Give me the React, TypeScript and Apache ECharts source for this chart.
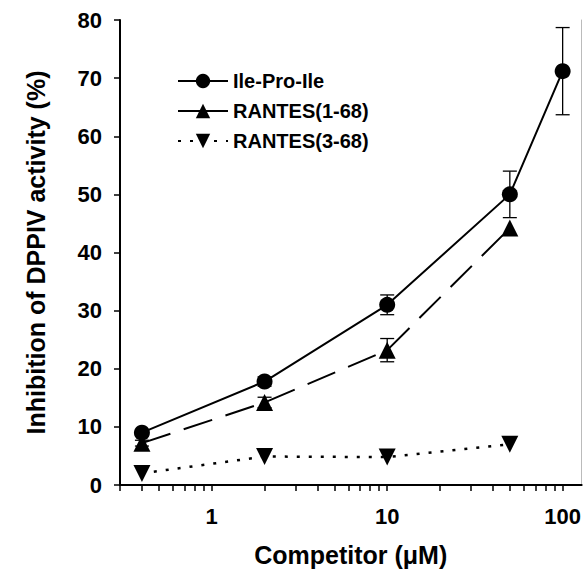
import React, { useEffect, useRef } from "react";
import * as echarts from "echarts";

const concIPI = [0.4, 2, 10, 50, 100];
const ileProIle = [9, 17.8, 31, 50, 71.2];
const ileProIleErr = [0.5, 0.8, 1.7, 4, 7.5];

const concR = [0.4, 2, 10, 50];
const rantes168 = [7.2, 14.2, 23.2, 44.2];
const rantes168Err = [0.5, 0.9, 2, 0];
const rantes368 = [2, 4.9, 4.8, 7];

const xLabelValues = [1, 10, 100];
const xTickValues = [
  0.3, 0.4, 0.5, 0.6, 0.7, 0.8, 0.9, 1, 2, 3, 4, 5, 6, 7, 8, 9, 10, 20, 30, 40, 50, 60, 70, 80, 90, 100,
];

const FONT = "'Liberation Sans', Arial, sans-serif";

export default function App() {
  const ref = useRef<HTMLDivElement>(null);
  useEffect(() => {
    if (!ref.current) return;
    const chart = echarts.init(ref.current, undefined, { renderer: "svg" });
    const pair = (xs: number[], ys: number[]) => xs.map((x, i) => [x, ys[i]]);
    const errData = [
      ...concIPI.map((x, i) => [x, ileProIle[i], ileProIleErr[i]]),
      ...concR.map((x, i) => [x, rantes168[i], rantes168Err[i]]),
    ].filter((d) => d[2] > 0);

    chart.setOption({
      animation: false,
      backgroundColor: "#fff",
      grid: { left: 120, top: 20, right: 1, bottom: 90 },
      legend: {
        orient: "vertical",
        left: 172,
        top: 66,
        itemWidth: 50,
        itemHeight: 18,
        itemGap: 10,
        textStyle: { fontFamily: FONT, fontWeight: "bold", fontSize: 20, lineHeight: 18, color: "#000" },
        data: [
          { name: "Ile-Pro-Ile" },
          { name: "RANTES(1-68)", lineStyle: { type: "solid" } },
          { name: "RANTES(3-68)" },
        ],
      },
      xAxis: [
        {
          type: "log",
          logBase: 10,
          min: 0.3,
          max: 128,
          name: "Competitor (\u03bcM)",
          nameLocation: "middle",
          nameGap: 57,
          nameTextStyle: { fontFamily: FONT, fontWeight: "bold", fontSize: 25, color: "#000" },
          axisLine: { show: true, lineStyle: { color: "#000", width: 2 } },
          axisTick: { show: true, inside: false, length: 6, lineStyle: { color: "#000", width: 1.5 }, customValues: xTickValues },
          axisLabel: {
            fontFamily: FONT,
            fontWeight: "bold",
            fontSize: 22,
            color: "#000",
            margin: 20,
            customValues: xLabelValues,
            formatter: (v: number) => String(v),
          },
          splitLine: { show: false },
          minorTick: { show: false },
        },
        {
          type: "log",
          position: "top",
          min: 0.3,
          max: 128,
          axisLine: { show: true, lineStyle: { color: "#000", width: 2 } },
          axisTick: { show: false },
          axisLabel: { show: false },
          splitLine: { show: false },
        },
      ],
      yAxis: [
        {
          type: "value",
          min: 0,
          max: 80,
          interval: 10,
          name: "Inhibition of DPPIV activity (%)",
          nameLocation: "middle",
          nameRotate: 90,
          nameGap: 72,
          nameTextStyle: { fontFamily: FONT, fontWeight: "bold", fontSize: 25, color: "#000" },
          axisLine: { show: true, lineStyle: { color: "#000", width: 2 } },
          axisTick: { show: true, inside: false, length: 6, lineStyle: { color: "#000", width: 1.5 } },
          axisLabel: { fontFamily: FONT, fontWeight: "bold", fontSize: 22, color: "#000", margin: 18 },
          splitLine: { show: false },
        },
        {
          type: "value",
          position: "right",
          min: 0,
          max: 80,
          axisLine: { show: true, lineStyle: { color: "#bbb", width: 1 } },
          axisTick: { show: false },
          axisLabel: { show: false },
          splitLine: { show: false },
        },
      ],
      series: [
        {
          type: "custom",
          name: "err",
          z: 1,
          data: errData,
          encode: { x: 0, y: 1 },
          renderItem: (params: any, api: any) => {
            const x = api.value(0);
            const y = api.value(1);
            const e = api.value(2);
            const t = api.coord([x, y + e]);
            const b = api.coord([x, y - e]);
            const h = 7;
            const st = { stroke: "#000", lineWidth: 1.3 };
            return {
              type: "group",
              children: [
                { type: "line", shape: { x1: t[0], y1: t[1], x2: b[0], y2: b[1] }, style: st },
                { type: "line", shape: { x1: t[0] - h, y1: t[1], x2: t[0] + h, y2: t[1] }, style: st },
                { type: "line", shape: { x1: b[0] - h, y1: b[1], x2: b[0] + h, y2: b[1] }, style: st },
              ],
            };
          },
        },
        {
          type: "line",
          name: "Ile-Pro-Ile",
          z: 3,
          data: pair(concIPI, ileProIle),
          symbol: "circle",
          symbolSize: 16,
          itemStyle: { color: "#000" },
          lineStyle: { color: "#000", width: 2, type: "solid" },
        },
        {
          type: "line",
          name: "RANTES(1-68)",
          z: 3,
          data: pair(concR, rantes168),
          symbol: "triangle",
          symbolSize: 17,
          itemStyle: { color: "#000" },
          lineStyle: { color: "#000", width: 2, type: [30, 14] },
        },
        {
          type: "line",
          name: "RANTES(3-68)",
          z: 3,
          data: pair(concR, rantes368),
          symbol: "triangle",
          symbolRotate: 180,
          symbolSize: 17,
          itemStyle: { color: "#000" },
          lineStyle: { color: "#000", width: 2.5, type: [3, 9] },
        },
      ],
    });
    return () => chart.dispose();
  }, []);
  return (
    <div
      ref={ref}
      style={{ position: "absolute", left: 0, top: 0, width: 584, height: 575 }}
    />
  );
}
